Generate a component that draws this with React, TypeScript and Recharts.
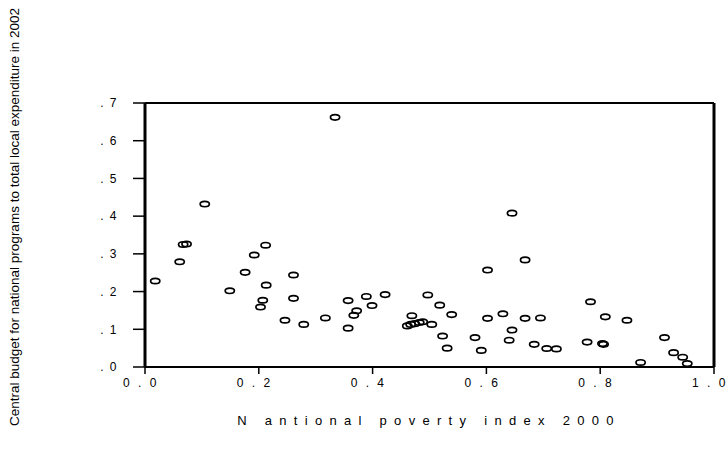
import React from 'react';
import { ScatterChart, Scatter, XAxis, YAxis, ReferenceLine } from 'recharts';

// Poverty index 2000 (x) and share of central budget for national programs (y)
const povertyIndex = [
  0.018, 0.061, 0.067, 0.073, 0.105, 0.149, 0.176, 0.192, 0.212, 0.213,
  0.207, 0.203, 0.246, 0.261, 0.261, 0.279, 0.317, 0.334, 0.357, 0.357,
  0.372, 0.367, 0.389, 0.399, 0.422, 0.461, 0.467, 0.469, 0.474, 0.482,
  0.488, 0.504, 0.497, 0.518, 0.523, 0.531, 0.539, 0.58, 0.591, 0.602,
  0.602, 0.629, 0.645, 0.668, 0.668, 0.695, 0.645, 0.64, 0.684, 0.706,
  0.723, 0.783, 0.777, 0.804, 0.806, 0.809, 0.847, 0.871, 0.913, 0.929,
  0.945, 0.953,
];
const budgetShare = [
  0.228, 0.279, 0.325, 0.326, 0.432, 0.202, 0.251, 0.297, 0.323, 0.217,
  0.177, 0.159, 0.124, 0.244, 0.182, 0.113, 0.13, 0.662, 0.176, 0.103,
  0.149, 0.137, 0.187, 0.163, 0.192, 0.109, 0.113, 0.136, 0.115, 0.118,
  0.12, 0.113, 0.191, 0.164, 0.082, 0.05, 0.139, 0.078, 0.044, 0.257,
  0.129, 0.141, 0.408, 0.284, 0.129, 0.13, 0.098, 0.071, 0.06, 0.049,
  0.048, 0.173, 0.066, 0.062, 0.06, 0.133, 0.124, 0.012, 0.078, 0.038,
  0.026, 0.009,
];
const xTicks = [0, 0.2, 0.4, 0.6, 0.8, 1.0];
const yTicks = [0, 0.1, 0.2, 0.3, 0.4, 0.5, 0.6, 0.7];

const points = povertyIndex.map((x, i) => ({ x, y: budgetShare[i] }));

const font = 'Arial, "Liberation Sans", sans-serif';

const XTick = ({ x, y, payload }: any) => (
  <text x={x - 4} y={y} dy="0.71em" textAnchor="middle" fontSize={12} fontFamily={font} fill="#000" letterSpacing={2.5}>
    {payload.value.toFixed(1).split('').join(' ')}
  </text>
);

const YTick = ({ x, y, payload }: any) => (
  <text x={x} y={y} dy="0.36em" textAnchor="end" fontSize={12} fontFamily={font} fill="#000" letterSpacing={1.5}>
    {'. ' + Math.round(payload.value * 10)}
  </text>
);

const Ring = (props: any) => (
  <ellipse cx={props.cx} cy={props.cy} rx={4.6} ry={2.7} fill="none" stroke="#000" strokeWidth={1.7} />
);

export default function App() {
  return (
    <div style={{ position: 'absolute', left: 0, top: 0, background: '#fff' }}>
      <ScatterChart width={728} height={459} margin={{ top: 103, right: 14, bottom: 0, left: 0 }}>
        <XAxis
          type="number"
          dataKey="x"
          domain={[0, 1]}
          ticks={xTicks}
          height={92}
          tickSize={7}
          tickMargin={4}
          tick={<XTick />}
          axisLine={{ stroke: '#000', strokeWidth: 2 }}
          tickLine={{ stroke: '#000', strokeWidth: 1.5 }}
          label={{
            content: () => (
              <text x={429} y={425} textAnchor="middle" fontSize={13} fontFamily={font} fill="#000" letterSpacing={7.3}>
                N antional poverty index 2000
              </text>
            ),
          }}
        />
        <YAxis
          type="number"
          dataKey="y"
          domain={[0, 0.7]}
          ticks={yTicks}
          width={145}
          tickSize={12}
          tickMargin={15}
          tick={<YTick />}
          axisLine={{ stroke: '#000', strokeWidth: 3 }}
          tickLine={{ stroke: '#000', strokeWidth: 1.5 }}
          label={{
            content: () => (
              <text
                x={14}
                y={217}
                transform="rotate(-90 14 217)"
                textAnchor="middle"
                dominantBaseline="central"
                fontSize={13.5}
                fontFamily={font}
                fill="#000"
              >
                Central budget for national programs to total local expenditure in 2002
              </text>
            ),
          }}
        />
        <ReferenceLine y={0.7} stroke="#000" strokeWidth={2} />
        <ReferenceLine x={1} stroke="#000" strokeWidth={3} />
        <Scatter data={points} shape={<Ring />} isAnimationActive={false} />
      </ScatterChart>
    </div>
  );
}
